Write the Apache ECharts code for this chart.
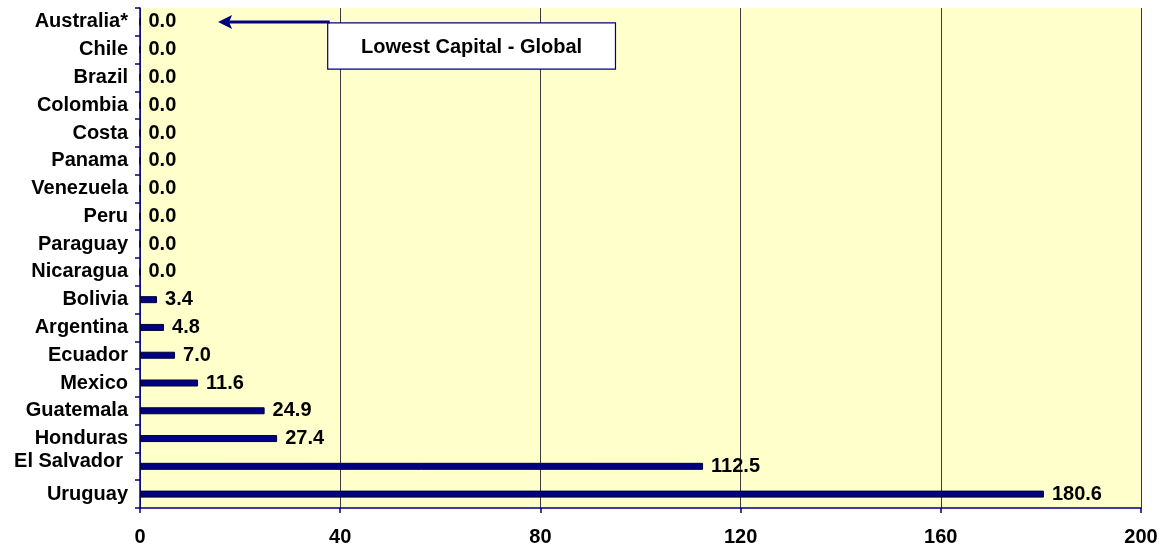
<!DOCTYPE html>
<html>
<head>
<meta charset="utf-8">
<style>
  html, body { margin: 0; padding: 0; background: #ffffff; }
  #chart { width: 1170px; height: 550px; }
</style>
<script src="https://cdn.jsdelivr.net/npm/echarts@6/dist/echarts.min.js"></script>
</head>
<body>
<div id="chart"></div>
<script>
// Countries, top to bottom
const countries = ['Australia*', 'Chile', 'Brazil', 'Colombia', 'Costa', 'Panama', 'Venezuela', 'Peru',
  'Paraguay', 'Nicaragua', 'Bolivia', 'Argentina', 'Ecuador', 'Mexico', 'Guatemala', 'Honduras',
  'El Salvador', 'Uruguay'];
const values = [0, 0, 0, 0, 0, 0, 0, 0, 0, 0, 3.4, 4.8, 7.0, 11.6, 24.9, 27.4, 112.5, 180.6];
const xTicks = [0, 40, 80, 120, 160, 200];
const calloutText = 'Lowest Capital - Global';

const NAVY = '#000080';
const FONT = '"Liberation Sans", Arial, sans-serif';
const FS = 20;

const chart = echarts.init(document.getElementById('chart'), null, { renderer: 'canvas' });

chart.setOption({
  animation: false,
  textStyle: { fontFamily: FONT },
  grid: {
    left: 140, right: 29, top: 8, bottom: 42,
    show: true, backgroundColor: '#FFFFCC', borderWidth: 0
  },
  xAxis: {
    type: 'value',
    min: xTicks[0], max: xTicks[xTicks.length - 1], interval: 40,
    axisLine: { show: true, lineStyle: { color: NAVY, width: 1.5 } },
    axisTick: { show: true, length: 5, lineStyle: { color: NAVY, width: 1.5 } },
    splitLine: { show: true, lineStyle: { color: '#3a3a3a', width: 1 } },
    axisLabel: { color: '#000', fontSize: FS, fontWeight: 'bold', margin: 19, fontFamily: FONT }
  },
  yAxis: {
    type: 'category',
    inverse: true,
    data: countries,
    axisLine: { show: true, lineStyle: { color: NAVY, width: 1.5 } },
    axisTick: { show: true, length: 5, lineStyle: { color: NAVY, width: 1.5 } },
    axisLabel: {
      color: '#000', fontSize: FS, fontWeight: 'bold', margin: 12, fontFamily: FONT,
      formatter: function (v) { return v === 'El Salvador' ? '{up|' + v + '}' : v; },
      rich: { up: { fontSize: FS, fontWeight: 'bold', color: '#000', fontFamily: FONT, padding: [0, 5, 10, 0] } }
    }
  },
  series: [{
    type: 'bar',
    data: values,
    barWidth: 7,
    itemStyle: { color: NAVY, borderColor: '#000033', borderWidth: 1 },
    label: {
      show: true, position: 'right', distance: 8,
      color: '#000', fontSize: FS, fontWeight: 'bold', fontFamily: FONT,
      formatter: function (p) { return p.value.toFixed(1); }
    }
  }]
});

// Callout box with an arrow pointing at the top (zero) row
function drawCallout() {
  const top = chart.convertToPixel({ xAxisIndex: 0, yAxisIndex: 0 }, [0, countries[0]]);
  const next = chart.convertToPixel({ xAxisIndex: 0, yAxisIndex: 0 }, [0, countries[1]]);
  const rowH = next[1] - top[1];
  const xAt = v => chart.convertToPixel({ xAxisIndex: 0 }, v);
  const boxL = xAt(37.5), boxR = xAt(95);
  const boxT = top[1] + 1, boxB = next[1] + rowH * 0.7;
  const arrowY = top[1];
  const tipX = xAt(15.6);
  chart.setOption({
    graphic: [
      {
        type: 'rect', z: 100,
        shape: { x: boxL, y: boxT, width: boxR - boxL, height: boxB - boxT },
        style: { fill: '#ffffff', stroke: NAVY, lineWidth: 1.2 }
      },
      {
        type: 'text', z: 101,
        x: (boxL + boxR) / 2, y: (boxT + boxB) / 2 + 1,
        style: {
          text: calloutText, fill: '#000', font: 'bold ' + FS + 'px ' + FONT,
          align: 'center', verticalAlign: 'middle'
        }
      },
      {
        type: 'line', z: 102,
        shape: { x1: boxL + 2, y1: arrowY, x2: tipX + 10, y2: arrowY },
        style: { stroke: NAVY, lineWidth: 3 }
      },
      {
        type: 'polygon', z: 102,
        shape: { points: [[tipX, arrowY], [tipX + 14, arrowY - 7], [tipX + 11, arrowY], [tipX + 14, arrowY + 7]] },
        style: { fill: NAVY }
      }
    ]
  });
}
drawCallout();
</script>
</body>
</html>
